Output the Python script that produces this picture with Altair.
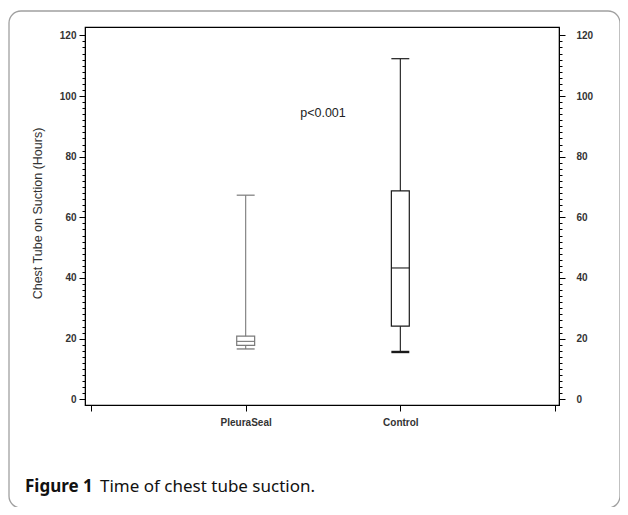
import altair as alt
import pandas as pd

# ---- data ----
groups = ["PleuraSeal", "Control"]
positions = [1, 2]
whisker_low = [16.6, 15.6]
q1_vals = [17.8, 24.1]
medians = [19.1, 43.3]
q3_vals = [20.8, 68.7]
whisker_high = [67.3, 112.3]
box_colors = ["#7a7a7a", "#1a1a1a"]
low_cap_widths = [1.3, 2.4]

x_tick_values = [0, 1, 2, 3]
x_tick_labels = ["", "PleuraSeal", "Control", ""]
y_tick_values = list(range(0, 121, 2))

annotation = ["p<0.001"]
annotation_x = [1.5]
annotation_y = [94.5]

caption_bold = ["Figure 1"]
caption_rest = ["Time of chest tube suction."]

# ---- layout ----
PLOT_W, PLOT_H = 474, 378
HALF = 0.058
X_DOMAIN = [-0.039, 3.026]
Y_DOMAIN = [-1.88, 122.75]

df = pd.DataFrame({
    "group": groups, "pos": positions, "lo": whisker_low, "q1": q1_vals,
    "med": medians, "q3": q3_vals, "hi": whisker_high, "color": box_colors,
    "lw": low_cap_widths,
})
df["left"] = df["pos"] - HALF
df["right"] = df["pos"] + HALF

label_map = ", ".join(f"'{v}': '{l}'" for v, l in zip(x_tick_values, x_tick_labels))
label_expr = "{" + label_map + "}[datum.label] || ''"
x_axis = alt.Axis(values=x_tick_values, labelExpr=label_expr, title=None, grid=False,
                  tickSize=6, labelPadding=6, labelFont="Liberation Sans", labelFontSize=10,
                  labelFontWeight="bold", labelColor="#333333", domainColor="#000000",
                  tickColor="#000000", labelFlush=False, labelOverlap=False)
xs = alt.Scale(domain=X_DOMAIN, nice=False, zero=False)
ys = alt.Scale(domain=Y_DOMAIN, nice=False, zero=False)

tick_cond = {"condition": {"test": "datum.value % 20 === 0", "value": 6}, "value": 3}
left_axis = alt.Axis(values=y_tick_values, labelExpr="datum.value % 20 === 0 ? datum.label : ''",
                     tickSize=tick_cond, labelPadding=3, grid=False, labelOverlap=False,
                     labelFlush=False, labelFont="Liberation Sans", labelFontSize=10,
                     labelFontWeight="bold", labelColor="#333333", domainColor="#000000",
                     tickColor="#000000",
                     title="Chest Tube on Suction (Hours)", titleFont="Liberation Sans",
                     titleFontSize=12.5, titleFontWeight="normal", titleColor="#333333",
                     titleX=-48, titleY=PLOT_H / 2 - 3, titleAlign="center",
                     titleBaseline="middle", titleAngle=270)
right_axis = alt.Axis(orient="right", values=y_tick_values,
                      labelExpr="datum.value % 20 === 0 ? datum.label : ''",
                      tickSize=tick_cond, labelPadding=11, grid=False, labelOverlap=False,
                      labelFlush=False, labelFont="Liberation Sans", labelFontSize=10,
                      labelFontWeight="bold", labelColor="#333333", domainColor="#000000",
                      tickColor="#000000", title=None)

base = alt.Chart(df)
color_enc = alt.Color("color:N", scale=None)

def X(field):
    return alt.X(field, scale=xs, axis=x_axis)

def Y(field):
    return alt.Y(field, scale=ys, axis=left_axis)

whisker = base.mark_rule(strokeWidth=1.1).encode(
    x=X("pos:Q"), y=Y("lo:Q"), y2="hi:Q", color=color_enc,
)
box = base.mark_rect(fill="white", strokeWidth=1.2).encode(
    x=X("left:Q"), x2="right:Q", y=Y("q1:Q"), y2="q3:Q", stroke=color_enc,
)
median = base.mark_rule(strokeWidth=1.1).encode(
    x=X("left:Q"), x2="right:Q", y=Y("med:Q"), color=color_enc,
)
cap_hi = base.mark_rule(strokeWidth=1.2).encode(
    x=X("left:Q"), x2="right:Q", y=Y("hi:Q"), color=color_enc,
)
cap_lo = base.mark_rule().encode(
    x=X("left:Q"), x2="right:Q", y=Y("lo:Q"), color=color_enc,
    strokeWidth=alt.StrokeWidth("lw:Q", scale=None),
)

ann_df = pd.DataFrame({"t": annotation, "x": annotation_x, "y": annotation_y})
ann = alt.Chart(ann_df).mark_text(font="Liberation Sans", fontSize=12.5, color="#222222",
                                  align="center", baseline="middle").encode(
    x=X("x:Q"), y=Y("y:Q"), text="t:N")

main = alt.layer(whisker, box, median, cap_hi, cap_lo, ann)

right = alt.Chart(df).mark_point(opacity=0).encode(
    x=X("pos:Q"),
    y=alt.Y("med:Q", scale=ys, axis=right_axis),
)

frame = alt.Chart(pd.DataFrame({"a": [0]})).mark_rect(
    fillOpacity=0, stroke="#a0a0a0", strokeWidth=1.3, cornerRadius=12).encode(
    x=alt.value(-76), x2=alt.value(535), y=alt.value(-16), y2=alt.value(481))

cap1 = alt.Chart(pd.DataFrame({"t": caption_bold})).mark_text(
    font="Noto Sans", fontSize=17, fontWeight="bold", color="#111111",
    align="left", baseline="middle").encode(
    text="t:N", x=alt.value(-60), y=alt.value(460))
cap2 = alt.Chart(pd.DataFrame({"t": caption_rest})).mark_text(
    font="Noto Sans", fontSize=17, color="#111111",
    align="left", baseline="middle").encode(
    text="t:N", x=alt.value(15), y=alt.value(460))

chart = alt.layer(main, right, frame, cap1, cap2).resolve_scale(y="independent").properties(
    width=PLOT_W, height=PLOT_H,
    padding={"left": 77, "top": 19, "right": 61, "bottom": 102},
    autosize=alt.AutoSizeParams(type="none"),
).configure_view(stroke="#000000", strokeWidth=1.2)

chart.save("out.html", embed_options={"renderer": "svg", "actions": False})
